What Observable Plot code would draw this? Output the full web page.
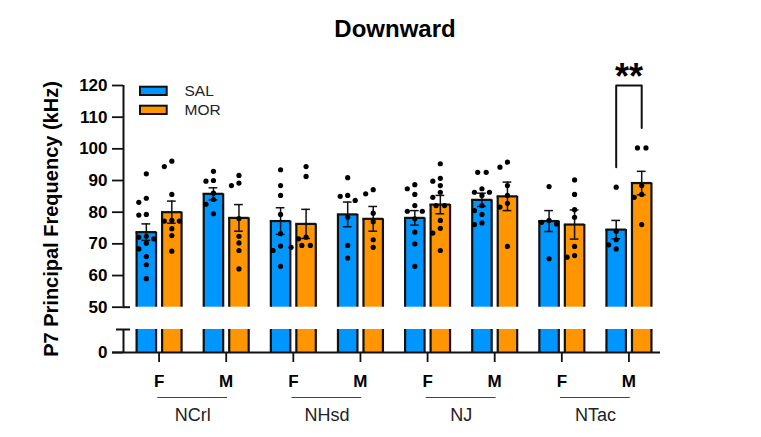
<!DOCTYPE html>
<html><head><meta charset="utf-8">
<script src="https://cdn.jsdelivr.net/npm/d3@7"></script>
<script src="https://cdn.jsdelivr.net/npm/@observablehq/plot@0.6"></script>
<style>
body{margin:0;background:#fff;}
#title{width:761px;height:50px;box-sizing:border-box;padding-top:15px;padding-left:29px;text-align:center;font:bold 24px "Liberation Sans",Arial,sans-serif;line-height:28px;color:#000;}
#chart svg g[aria-label="y-axis tick"] path,#chart svg g[aria-label="x-axis tick"] path,
#chart svg g[aria-label="y-axis"] line,#chart svg g[aria-label="x-axis"] line{stroke-width:1.8px;stroke:#111;}
</style></head><body>
<div id="title">Downward</div>
<div id="chart"></div>
<script>
// ---- data ----
const strains = ["NCrl", "NHsd", "NJ", "NTac"];
const sexes = ["F", "M"];
const treatments = ["SAL", "MOR"];
// bar order: strain -> sex -> treatment
const means = [73.7, 80.0, 85.8, 78.2, 77.2, 76.3, 79.3, 77.9, 78.2, 82.4, 83.9, 85.0, 77.2, 76.1, 74.5, 89.2];
const sems = [2.6, 3.5, 1.9, 4.2, 4.2, 4.6, 3.9, 3.9, 2.3, 2.9, 2.1, 4.5, 3.3, 4.6, 2.9, 3.7];
const points = [
  [92.1, 84.4, 83.1, 79.3, 79.1, 72.4, 71.6, 72.1, 70.2, 68.4, 66.0, 63.4, 59.0],
  [96.1, 94.4, 85.6, 77.4, 77.2, 77.2, 74.8, 72.6, 67.7],
  [92.9, 89.8, 90.0, 86.0, 84.0, 82.5, 79.5],
  [91.6, 89.2, 88.4, 78.0, 72.4, 70.3, 67.9, 62.1],
  [93.4, 88.4, 85.3, 79.3, 73.2, 69.3, 67.9, 62.9],
  [94.4, 91.3, 72.1, 71.6, 68.9, 69.5, 69.5],
  [90.9, 85.0, 85.3, 83.7, 78.4, 69.5, 65.5],
  [87.1, 85.8, 79.7, 77.0, 71.3, 68.9],
  [88.7, 87.4, 85.6, 82.1, 80.3, 80.3, 77.9, 73.7, 70.0, 62.9],
  [95.3, 90.7, 89.8, 88.4, 86.3, 84.7, 82.1, 82.1, 77.4, 74.9, 73.4, 67.9],
  [92.6, 92.6, 86.3, 86.3, 87.4, 85.3, 82.1, 80.5, 79.3, 76.1, 76.6],
  [94.2, 95.8, 88.4, 85.3, 82.8, 81.6, 69.2],
  [88.1, 77.4, 76.3, 76.8, 65.3],
  [90.2, 85.6, 80.8, 78.4, 69.2, 65.8, 66.3],
  [87.9, 74.0, 71.3, 69.7, 68.4],
  [100.3, 100.3, 88.4, 85.6, 84.7, 76.1]
];
const yTicks = [0, 50, 60, 70, 80, 90, 100, 110, 120];
const sigBars = [14, 15];          // NTac M: SAL vs MOR
const sigLevels = [94.2, 120, 106.6];
const sigLabel = "**";
const yTitle = "P7 Principal Frequency (kHz)";
const barColors = ["#0096ff", "#ff9500"];

// ---- layout ----
const W = 761, H = 387, ML = 123, MR = 101, MT = 35, MB = 85;
const X0 = -0.53, X1 = 7.47;
const pxPerX = (W - ML - MR) / (X1 - X0);
// broken axis: lower segment 0–10 gets 23px, gap 22.3px, upper 50–120 gets the rest
const lowTop = 10, lowPx = 23, gapPx = 22.3, upLo = 50, upHi = 120;
const pxPerY = (H - MB - MT - lowPx - gapPx) / (upHi - upLo);
const u = v => v <= lowTop ? v * lowPx / lowTop : lowPx + gapPx + (v - upLo) * pxPerY;
const uMax = u(upHi);
const xInv = px => X0 + (px - ML) / pxPerX;
const uPx = pxAbs => (H - MB) - (pxAbs - 50);   // page y -> axis units (px above baseline)
const off = 0.19, half = 0.145, cap = 0.065;

const bars = [];
strains.forEach((s, si) => sexes.forEach((sx, xi) => treatments.forEach((t, ti) => {
  const k = si * 4 + xi * 2 + ti;
  bars.push({strain: s, sex: sx, treatment: t, x: si * 2 + xi + (ti === 0 ? -off : off),
             mean: means[k], sem: sems[k], pts: points[k]});
})));

// beeswarm-style spreading of overlapping points (rows of equal values are centred)
const dots = [];
bars.forEach(b => {
  const placed = [];
  const vals = [...b.pts].sort((a, c) => c - a);
  const step = 7.5, minD = 6;
  for (const v of vals) {
    const py = u(v);
    const same = placed.filter(p => Math.abs(p.py - py) < 0.01);
    let o = 0;
    if (same.length === 1 && same[0].ox === 0) {
      same[0].ox = -step / 2 - 0.5; o = step / 2 + 0.5;
    } else {
      for (let j = 0; j < 30; j++) {
        const cand = j === 0 ? 0 : (j % 2 ? -1 : 1) * Math.ceil(j / 2) * step;
        if (placed.every(p => Math.hypot(p.ox - cand, p.py - py) >= minD)) { o = cand; break; }
      }
    }
    placed.push({ox: o, py, v});
  }
  placed.forEach(p => dots.push({x: b.x + p.ox / pxPerX, y: p.v}));
});

const segs = bars.flatMap(b => [{...b, y1: 0, y2: lowTop}, {...b, y1: upLo, y2: b.mean}]);
const legendRows = treatments.map((t, i) => ({t, i}));
const xL = bars[sigBars[0]].x, xR = bars[sigBars[1]].x;
const bracket = [[xL, sigLevels[0]], [xL, sigLevels[1]], [xR, sigLevels[1]], [xR, sigLevels[2]]];
const groups = strains.map((s, i) => ({s, i}));
const ink = "#111";
const tickU = yTicks.map(u);

const chart = Plot.plot({
  width: W, height: H, marginLeft: ML, marginRight: MR, marginTop: MT, marginBottom: MB,
  style: {fontFamily: '"Liberation Sans", Arial, sans-serif', fontSize: "17px", fontWeight: "bold", color: "#000", background: "#fff", overflow: "visible"},
  x: {domain: [X0, X1], ticks: d3.range(8), tickFormat: i => sexes[i % 2], tickSize: 10, tickPadding: 12, label: null},
  y: {domain: [0, uMax], ticks: tickU, tickFormat: d => String(yTicks[tickU.indexOf(d)]), tickSize: 11, tickPadding: 5, label: null},
  color: {domain: treatments, range: barColors},
  marks: [
    Plot.rect(segs, {x1: d => d.x - half, x2: d => d.x + half, y1: d => u(d.y1), y2: d => u(d.y2), fill: "treatment"}),
    Plot.ruleX(segs, {x: d => d.x - half, y1: d => u(d.y1), y2: d => u(d.y2), stroke: ink, strokeWidth: 2.2}),
    Plot.ruleX(segs, {x: d => d.x + half, y1: d => u(d.y1), y2: d => u(d.y2), stroke: ink, strokeWidth: 2.2}),
    Plot.ruleY(bars, {y: d => u(d.mean), x1: d => d.x - half - 0.008, x2: d => d.x + half + 0.008, stroke: ink, strokeWidth: 2.2}),
    Plot.ruleX(bars, {x: "x", y1: d => u(d.mean - d.sem), y2: d => u(d.mean + d.sem), stroke: ink, strokeWidth: 1.5}),
    Plot.ruleY(bars, {y: d => u(d.mean + d.sem), x1: d => d.x - cap, x2: d => d.x + cap, stroke: ink, strokeWidth: 1.5}),
    Plot.ruleY(bars, {y: d => u(d.mean - d.sem), x1: d => d.x - cap, x2: d => d.x + cap, stroke: ink, strokeWidth: 1.5}),
    Plot.dot(dots, {x: "x", y: d => u(d.y), r: 2.6, fill: "#000", stroke: null}),
    // broken y axis
    Plot.ruleX([X0], {y1: u(upLo), y2: u(upHi), stroke: ink, strokeWidth: 2}),
    Plot.ruleX([X0], {y1: 0, y2: u(lowTop), stroke: ink, strokeWidth: 2}),
    Plot.ruleY([u(lowTop)], {x1: xInv(ML - 7), x2: xInv(ML + 7), stroke: ink, strokeWidth: 2}),
    Plot.ruleY([u(upLo)], {x1: X0, x2: xInv(ML + 7), stroke: ink, strokeWidth: 2}),
    Plot.ruleY([0], {x1: xInv(ML - 11), x2: X1, stroke: ink, strokeWidth: 2}),
    // group lines and strain labels
    Plot.ruleY(groups, {y: 0, x1: d => d.i * 2 - 0.02, x2: d => d.i * 2 + 1.02, dy: 45, stroke: "#444", strokeWidth: 1.2}),
    Plot.text(groups, {x: d => d.i * 2 + 0.5, y: 0, dy: 63, text: "s", fontSize: 18, fontWeight: "normal", fill: "#222"}),
    // legend
    Plot.rect(legendRows, {x1: xInv(140), x2: xInv(166.7), y1: d => uPx(95 + 19 * d.i), y2: d => uPx(86.7 + 19 * d.i), fill: "t", stroke: ink, strokeWidth: 2}),
    Plot.text(legendRows, {x: xInv(184), y: d => uPx(91 + 19 * d.i), text: "t", textAnchor: "start", fontSize: 15.5, fontWeight: "normal", fill: "#222"}),
    // significance
    Plot.line(bracket, {x: d => d[0], y: d => u(d[1]), stroke: ink, strokeWidth: 2}),
    Plot.text([sigLabel], {x: (xL + xR) / 2, y: u(sigLevels[1]), dy: -8, fontSize: 36, fontWeight: "bold", fill: "#000"}),
    // y title
    Plot.text([yTitle], {frameAnchor: "left", dx: -72, rotate: -90, textAnchor: "middle", fontSize: 20, fontWeight: "bold", fill: "#000"})
  ]
});
document.getElementById("chart").appendChild(chart);
</script>
</body></html>
